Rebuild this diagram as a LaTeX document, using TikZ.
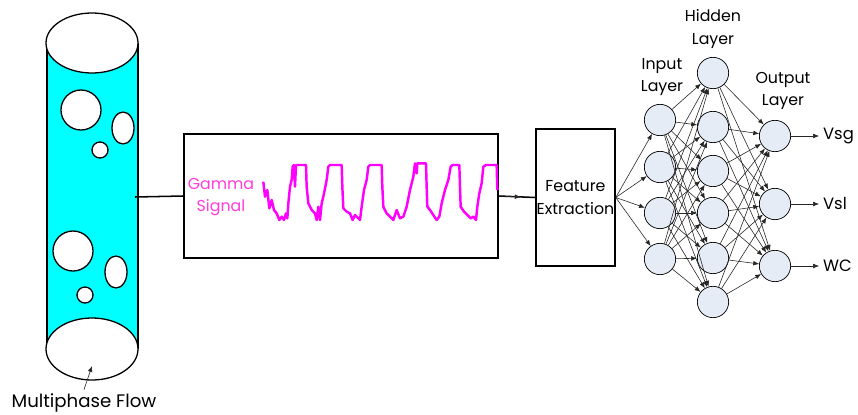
\documentclass[tikz,border=0pt]{standalone}
\usepackage{fontspec}
\setmainfont{Poppins}
\usetikzlibrary{arrows.meta,calc,positioning}
\definecolor{pipecyan}{RGB}{0,255,255}
\definecolor{neuronfill}{RGB}{230,236,246}
\definecolor{signalpink}{RGB}{255,0,255}
\definecolor{labelpink}{RGB}{255,60,220}

\begin{document}
\begin{tikzpicture}[x=0.03cm,y=-0.03cm, every node/.style={font=\fontsize{13.5}{19}\selectfont},
    neuron/.style={draw, circle, fill=neuronfill, minimum size=0.94cm, inner sep=0pt, line width=0.6pt},
    blockbox/.style={draw, rectangle, line width=1.3pt},
    link/.style={-{Latex[length=5pt,width=4pt]}, line width=0.5pt, black!85},
    bubble/.style={draw, fill=white, line width=1.1pt}]
    \useasboundingbox (0,0) rectangle (858,414);
    % pipe with gas bubbles
    \fill[pipecyan] (47,43) rectangle (138,349);
    \draw[line width=1.1pt] (47,43) -- (47,349) (138,43) -- (138,349);
    \draw[bubble] (92,43) ellipse [x radius=46, y radius=30];
    \draw[bubble] (92,349) ellipse [x radius=46, y radius=31];
    \draw[bubble] (81,110) circle [radius=20];
    \draw[bubble] (123,128) ellipse [x radius=11, y radius=16];
    \draw[bubble] (100,150) circle [radius=8];
    \draw[bubble] (73,251) circle [radius=20];
    \draw[bubble] (116,272) ellipse [x radius=11, y radius=16];
    \draw[bubble] (85,295) circle [radius=8];
    \coordinate (tap) at (135,197);
    \coordinate (flowpt) at (92,366);
    \node[font=\fontsize{15.5}{19}\selectfont] (flow) at (84,403) {Multiphase Flow};
    \draw[link] (flow.north) -- (flowpt);

    % gamma signal
    \node[blockbox, minimum width=9.42cm, minimum height=3.72cm] (sig) at (341,196) {};
    \node[labelpink, align=center, font=\fontsize{13.5}{19}\selectfont] (gamma) at (221,197) {Gamma\\Signal};
    \begin{scope}[shift={(180,120)}, scale=1/3]
        \draw[signalpink, line width=2.1pt, line join=round]
            (250,185) -- (255,230) -- (262,210) -- (268,265) -- (275,240) -- (282,270) -- (290,280)
            -- (298,300) -- (305,290) -- (312,300) -- (318,280) -- (322,295) -- (325,250) -- (330,200)
            -- (335,180) -- (338,140) -- (342,135) -- (345,200) -- (348,135) -- (378,135) -- (380,200)
            -- (385,250) -- (395,270) -- (405,280) -- (410,300) -- (415,260) -- (420,300) -- (425,250)
            -- (430,230) -- (440,180) -- (445,140) -- (450,135) -- (485,135) -- (487,200) -- (490,265)
            -- (500,275) -- (510,280) -- (518,300) -- (525,285) -- (540,300) -- (545,260) -- (552,210)
            -- (560,180) -- (565,140) -- (570,135) -- (605,135) -- (607,200) -- (610,260) -- (620,280)
            -- (630,290) -- (640,300) -- (650,270) -- (660,295) -- (670,290) -- (680,260) -- (690,210)
            -- (700,170) -- (705,130) -- (710,160) -- (712,130) -- (738,130) -- (740,200) -- (742,260)
            -- (750,270) -- (760,285) -- (770,300) -- (778,290) -- (785,250) -- (795,210) -- (805,180)
            -- (812,140) -- (818,135) -- (838,135) -- (840,200) -- (842,260) -- (852,275) -- (862,285)
            -- (872,295) -- (880,290) -- (888,300) -- (892,260) -- (898,220) -- (905,190) -- (910,140)
            -- (918,135) -- (950,135) -- (952,210);
    \end{scope}
    \draw[line width=1.3pt] (tap) -- (sig.west);

    % feature extraction
    \node[blockbox, minimum width=2.37cm, minimum height=4.11cm, align=center, inner sep=0.5pt,
          font=\fontsize{13.5}{19}\selectfont] (fe) at (575.5,197.5) {Feature\\Extraction};
    \draw[line width=1.3pt] (sig.east) -- (fe.west);
    \draw[link] (sig.east) -- ($(sig.east)!0.6!(fe.west)$);

    % network
    \node[align=center] (inlbl) at (662,77) {Input\\Layer};
    \node[align=center] (hdlbl) at (713,29) {Hidden\\Layer};
    \node[align=center] (outlbl) at (783,91) {Output\\Layer};
    \node[neuron] (in1) at (660,120) {};
    \node[neuron] (in2) at (660,167) {};
    \node[neuron] (in3) at (660,213) {};
    \node[neuron] (in4) at (660,259) {};
    \node[neuron] (hd1) at (713,73) {};
    \node[neuron] (hd2) at (713,127) {};
    \node[neuron] (hd3) at (713,171) {};
    \node[neuron] (hd4) at (713,213) {};
    \node[neuron] (hd5) at (713,258) {};
    \node[neuron] (hd6) at (713,302) {};
    \node[neuron] (out1) at (775,136) {};
    \node[neuron] (out2) at (775,204) {};
    \node[neuron] (out3) at (775,266) {};
    \node[anchor=west, font=\fontsize{14}{19}\selectfont] (vsg) at (819,136) {Vsg};
    \node[anchor=west, font=\fontsize{14}{19}\selectfont] (vsl) at (819,204) {Vsl};
    \node[anchor=west, font=\fontsize{14}{19}\selectfont] (wc) at (819,266) {WC};
    \foreach \i in {1,...,4}
        \draw[link] (fe.east) -- (in\i);
    \foreach \i in {1,...,4}
        \foreach \j in {1,...,6}
            \draw[link] (in\i) -- (hd\j);
    \foreach \j in {1,...,6}
        \foreach \k in {1,2,3}
            \draw[link] (hd\j) -- (out\k);
    \draw[link] (out1) -- (vsg);
    \draw[link] (out2) -- (vsl);
    \draw[link] (out3) -- (wc);
\end{tikzpicture}
\end{document}
